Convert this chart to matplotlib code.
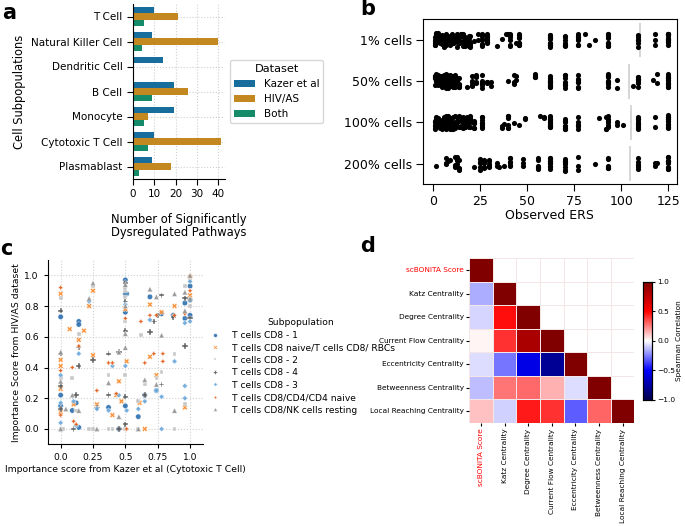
import numpy as np
import pandas as pd
import matplotlib
matplotlib.use("Agg")
import matplotlib.pyplot as plt
import seaborn as sns

# ---------------- DATA ----------------
# panel a
cells = ["T Cell", "Natural Killer Cell", "Dendritic Cell", "B Cell",
         "Monocyte", "Cytotoxic T Cell", "Plasmablast"]
kazer = [10, 9, 14, 19, 19, 10, 9]
hivas = [21, 40, 0, 26, 7, 41, 18]
both = [5, 4, 0, 9, 5, 7, 3]
datasets = ["Kazer et al", "HIV/AS", "Both"]

# panel b  (observed ERS values and how many cells sit on each value)
b_groups = ["1% cells", "50% cells", "100% cells", "200% cells"]
b1_vals = [1, 2, 3, 4, 5, 6, 7, 8, 9, 10, 11, 12, 13, 14, 15, 16, 17, 18, 19, 20,
           22, 24, 26, 29, 34, 37, 39, 40, 41, 44, 46, 62, 70, 77, 81, 83, 86, 93, 109, 118, 125]
b1_cnt = [6, 5, 6, 5, 6, 5, 6, 4, 6, 5, 6, 4, 6, 5, 4, 6, 5, 4, 6, 5,
          1, 2, 8, 10, 1, 1, 1, 1, 6, 1, 8, 14, 8, 8, 1, 1, 1, 10, 6, 3, 14]
b2_vals = [1, 2, 3, 4, 5, 6, 7, 8, 9, 10, 11, 12, 13, 14, 18, 21, 23, 26, 29, 31,
           40, 43, 44, 54, 62, 70, 77, 93, 98, 106, 109, 117, 119, 125]
b2_cnt = [6, 5, 6, 5, 6, 5, 6, 4, 6, 5, 6, 4, 6, 5, 1, 5, 5, 6, 3, 2,
          1, 3, 2, 4, 14, 8, 8, 10, 2, 1, 8, 1, 2, 14]
b3_vals = [1, 2, 3, 4, 5, 6, 7, 8, 9, 10, 11, 12, 13, 14, 15, 16, 17, 18, 19, 20,
           22, 26, 37, 38, 40, 43, 46, 49, 57, 59, 62, 70, 77, 88, 92, 93, 98, 101, 109, 118, 125]
b3_cnt = [6, 5, 6, 5, 6, 5, 6, 4, 6, 5, 6, 4, 6, 5, 4, 6, 5, 4, 6, 5,
          6, 8, 2, 1, 6, 1, 1, 2, 1, 2, 14, 8, 6, 1, 3, 6, 2, 1, 10, 2, 14]
b4_vals = [2, 7, 8, 9, 12, 13, 14, 22, 25, 27, 30, 34, 35, 38, 41, 48, 56, 62, 70,
           77, 86, 93, 109, 118, 119, 125]
b4_cnt = [1, 3, 1, 1, 4, 5, 4, 1, 5, 5, 5, 2, 1, 1, 6, 3, 6, 12, 8,
          3, 1, 6, 6, 2, 1, 12]
b_ref = [109.7, 104.3, 105.0, 104.7]

# panel c  (x: Kazer et al score, y: HIV/AS score)
subpops = ["T cells CD8 - 1", "T cells CD8 naive/T cells CD8/ RBCs", "T cells CD8 - 2",
           "T cells CD8 - 4", "T cells CD8 - 3", "T cells CD8/CD4/CD4 naive",
           "T cells CD8/NK cells resting"]
c1_x = [0.0, 0.0, 0.0, 0.14, 0.14, 0.12, 0.37, 0.5, 0.5, 0.51, 0.6, 0.65, 0.69, 0.74, 0.87,
        0.96, 0.96, 1.0, 1.0, 0.45, 0.09, 0.14, 0.5, 0.78, 0.5, 1.0]
c1_y = [0.73, 0.22, 0.15, 0.70, 0.68, 0.17, 0.14, 0.76, 0.15, 0.88, 0.08, 0.22, 0.86, 0.25, 0.74,
        0.82, 0.72, 0.93, 0.74, 0.0, 0.12, 0.01, 0.97, 0.75, 0.88, 0.84]
c2_x = [0.0, 0.0, 0.0, 0.0, 0.0, 0.07, 0.10, 0.14, 0.18, 0.22, 0.25, 0.25, 0.40, 0.43, 0.45,
        0.47, 0.5, 0.51, 0.65, 0.69, 0.69, 0.74, 0.78, 0.88, 0.96, 1.0, 0.61, 1.0, 0.28]
c2_y = [0.88, 0.45, 0.41, 0.26, 0.11, 0.65, 0.16, 0.58, 0.64, 0.80, 0.90, 0.48, 0.09, 0.22, 0.31,
        0.18, 0.78, 0.44, 0.0, 0.81, 0.47, 0.35, 0.76, 0.80, 0.14, 0.99, 0.17, 0.87, 0.16]
c3_x = [0.0, 0.0, 0.0, 0.02, 0.09, 0.12, 0.22, 0.25, 0.37, 0.37, 0.40, 0.5, 0.5, 0.5, 0.6,
        0.6, 0.65, 0.74, 0.78, 0.88, 0.96, 0.96, 1.0, 1.0, 0.25, 0.14, 0.5, 0.88, 0.62, 0.5, 0.5]
c3_y = [0.85, 0.33, 0.0, 0.0, 0.33, 0.12, 0.0, 0.0, 0.35, 0.0, 0.0, 0.90, 0.86, 0.35, 0.18,
        0.0, 0.29, 0.33, 0.37, 0.49, 0.93, 0.16, 0.97, 0.80, 0.93, 0.62, 0.0, 0.0, 0.61, 0.92, 0.70]
c4_x = [0.0, 0.0, 0.0, 0.0, 0.14, 0.14, 0.12, 0.25, 0.28, 0.37, 0.37, 0.45, 0.45, 0.5, 0.5,
        0.5, 0.5, 0.65, 0.69, 0.72, 0.75, 0.78, 0.78, 0.87, 0.96, 0.96, 1.0, 0.10, 0.5]
c4_y = [0.77, 0.49, 0.28, 0.13, 0.53, 0.41, 0.22, 0.45, 0.14, 0.49, 0.22, 0.50, 0.0, 0.83, 0.64,
        0.21, 0.03, 0.22, 0.63, 0.70, 0.74, 0.87, 0.29, 0.73, 0.54, 0.85, 0.72, 0.0, 0.95]
c5_x = [0.0, 0.0, 0.0, 0.10, 0.14, 0.12, 0.28, 0.37, 0.40, 0.45, 0.5, 0.5, 0.51, 0.6, 0.65,
        0.69, 0.74, 0.78, 0.78, 0.88, 0.96, 0.96, 0.96, 1.0, 1.0, 0.22]
c5_y = [0.35, 0.17, 0.04, 0.18, 0.49, 0.02, 0.13, 0.12, 0.41, 0.22, 0.81, 0.41, 0.12, 0.13, 0.18,
        0.71, 0.25, 0.21, 0.0, 0.44, 0.28, 0.20, 0.69, 0.70, 0.96, 0.83]
c6_x = [0.0, 0.0, 0.0, 0.09, 0.10, 0.12, 0.14, 0.28, 0.37, 0.40, 0.43, 0.5, 0.51, 0.62, 0.65,
        0.69, 0.72, 0.79, 0.79, 0.88, 0.96, 1.0, 1.0, 0.74]
c6_y = [0.92, 0.38, 0.09, 0.40, 0.05, 0.03, 0.54, 0.25, 0.43, 0.43, 0.23, 0.72, 0.0, 0.70, 0.43,
        0.74, 0.49, 0.49, 0.44, 0.74, 0.75, 0.99, 0.90, 0.74]
c7_x = [0.0, 0.0, 0.0, 0.04, 0.09, 0.14, 0.25, 0.28, 0.37, 0.45, 0.45, 0.5, 0.5, 0.5, 0.6,
        0.65, 0.69, 0.74, 0.74, 0.78, 0.88, 0.88, 0.96, 0.96, 1.0, 1.0, 0.22, 0.5]
c7_y = [0.50, 0.31, 0.0, 0.13, 0.22, 0.12, 0.95, 0.0, 0.30, 0.08, 0.50, 0.94, 0.53, 0.62, 0.0,
        0.32, 0.91, 0.29, 0.86, 0.61, 0.88, 0.12, 0.89, 0.77, 1.0, 0.85, 0.85, 0.80]
c_colors = ["#2f72b0", "#f98a2c", "#c4c4c4", "#545454", "#6aa8dc", "#e25a14", "#959595"]

# panel d  (lower triangle of the Spearman correlation matrix)
measures = ["scBONITA Score", "Katz Centrality", "Degree Centrality",
            "Current Flow Centrality", "Eccentricity Centrality",
            "Betweenness Centrality", "Local Reaching Centrality"]
corr_rows = [
    [1.0],
    [-0.16, 1.0],
    [-0.08, 0.47, 1.0],
    [0.02, 0.40, 0.83, 1.0],
    [-0.07, -0.27, -0.57, -0.79, 1.0],
    [-0.13, 0.27, 0.29, 0.15, -0.07, 1.0],
    [0.12, -0.09, 0.45, 0.40, -0.32, 0.30, 1.0],
]

# ---------------- FIGURE ----------------
fig = plt.figure(figsize=(6.85, 5.26), dpi=100)

def px(x0, y0, x1, y1):
    # pixel box -> figure fraction rect
    W, H = 685.0, 526.0
    return [x0 / W, 1 - y1 / H, (x1 - x0) / W, (y1 - y0) / H]

# ---- a ----
ax_a = fig.add_axes(px(133, 4, 225, 179))
pal = [sns.desaturate(c, 0.75) for c in sns.color_palette("colorblind", 3)]
ypos = np.arange(len(cells))
bh = 0.8 / 3
for k, vals in enumerate([kazer, hivas, both]):
    ax_a.barh(ypos + (k - 1) * bh, vals, height=bh, color=pal[k], label=datasets[k], zorder=2)
ax_a.set_ylim(len(cells) - 0.5, -0.5)
ax_a.set_xlim(0, 43.1)
ax_a.set_yticks(ypos)
ax_a.set_yticklabels(cells)
ax_a.set_xticks([0, 10, 20, 30, 40])
ax_a.grid(True, linestyle=":", color="#cfcfcf", linewidth=0.8, zorder=0)
ax_a.set_axisbelow(True)
for s in ["top", "right"]:
    ax_a.spines[s].set_visible(False)
ax_a.tick_params(labelsize=7.5, length=4)
ax_a.set_ylabel("Cell Subpopulations", fontsize=8.3)
ax_a.set_xlabel("Number of Significantly\nDysregulated Pathways", fontsize=8.3,
                labelpad=9.5, linespacing=1.05)
ax_a.legend(title="Dataset", loc="center left", bbox_to_anchor=(1.0, 0.5),
            fontsize=7.5, title_fontsize=8.2)

# ---- b ----
ax_b = fig.add_axes(px(422.7, 19.3, 676.7, 184.3))
ers = np.concatenate([np.repeat(b1_vals, b1_cnt), np.repeat(b2_vals, b2_cnt),
                      np.repeat(b3_vals, b3_cnt), np.repeat(b4_vals, b4_cnt)])
grp = np.repeat(b_groups, [sum(b1_cnt), sum(b2_cnt), sum(b3_cnt), sum(b4_cnt)])
df_b = pd.DataFrame({"ERS": ers, "group": grp})
np.random.seed(3)
sns.stripplot(data=df_b, x="ERS", y="group", order=b_groups, color="black",
              size=3.7, jitter=0.17, ax=ax_b)
for i, v in enumerate(b_ref):
    ax_b.vlines(v, i - 0.42, i + 0.42, color="#d0d0d0", linewidth=1.2, zorder=0)
ax_b.set_xlim(-5.3, 129.4)
ax_b.set_ylim(3.5, -0.5)
ax_b.set_xticks([0, 25, 50, 75, 100, 125])
ax_b.set_ylabel("")
ax_b.set_xlabel("Observed ERS", fontsize=9, labelpad=1)
ax_b.tick_params(labelsize=9, length=5, pad=2.5)

# ---- c ----
ax_c = fig.add_axes(px(47.7, 260, 203, 444.3))
cx = [c1_x, c2_x, c3_x, c4_x, c5_x, c6_x, c7_x]
cy = [c1_y, c2_y, c3_y, c4_y, c5_y, c6_y, c7_y]
df_c = pd.DataFrame({
    "x": np.concatenate(cx),
    "y": np.concatenate(cy),
    "Subpopulation": np.repeat(subpops, [len(a) for a in cx]),
})
sns.scatterplot(data=df_c, x="x", y="y", hue="Subpopulation", style="Subpopulation",
                hue_order=subpops, style_order=subpops, palette=c_colors,
                s=15, alpha=0.92, ax=ax_c)
ax_c.set_xlim(-0.1, 1.1)
ax_c.set_ylim(-0.1, 1.1)
ax_c.set_xticks([0.0, 0.25, 0.5, 0.75, 1.0])
ax_c.set_xticklabels(["0.0", "0.25", "0.5", "0.75", "1.0"])
ax_c.set_yticks([0.0, 0.2, 0.4, 0.6, 0.8, 1.0])
ax_c.grid(True, linestyle=":", color="#cfcfcf", linewidth=0.8)
ax_c.set_axisbelow(True)
for s in ["top", "right"]:
    ax_c.spines[s].set_visible(False)
ax_c.tick_params(labelsize=6.6, length=3)
ax_c.set_xlabel("Importance score from Kazer et al (Cytotoxic T Cell)", fontsize=6.7,
                labelpad=2)
ax_c.set_ylabel("Importance Score from HIV/AS dataset", fontsize=6.7, labelpad=2)
hd, lb = ax_c.get_legend_handles_labels()
ax_c.legend(hd, lb, title="Subpopulation", frameon=False, fontsize=6.6, title_fontsize=6.6,
            loc="upper left", bbox_to_anchor=(198 / 685, 1 - 310 / 526),
            bbox_transform=fig.transFigure, markerscale=0.7, handletextpad=0.8,
            labelspacing=0.38)

# ---- d ----
n = len(measures)
corr = np.full((n, n), np.nan)
for i, row in enumerate(corr_rows):
    for j, v in enumerate(row):
        corr[i, j] = v
        corr[j, i] = v
mask = np.triu(np.ones((n, n), dtype=bool), k=1)
ax_d = fig.add_axes(px(469.3, 258.3, 634.3, 423))
cax = fig.add_axes(px(643, 281.7, 652, 400))
sns.heatmap(pd.DataFrame(corr, index=measures, columns=measures), mask=mask,
            cmap="seismic", vmin=-1, vmax=1, linewidths=0.5, linecolor="#f4e6e6",
            ax=ax_d, cbar_ax=cax, cbar_kws={"ticks": [-1, -0.5, 0, 0.5, 1]})
ax_d.tick_params(labelsize=5.3, length=2.5, pad=1.5)
ax_d.set_xticklabels(measures, rotation=90)
ax_d.set_yticklabels(measures, rotation=0)
for t in ax_d.get_xticklabels() + ax_d.get_yticklabels():
    if t.get_text() == "scBONITA Score":
        t.set_color("red")
cax.tick_params(labelsize=5.4, length=2.5, pad=1.2)
cax.set_ylabel("Spearman Correlation", fontsize=5.3, labelpad=0.5)
cax.set_yticklabels(["\u22121.0", "\u22120.5", "0.0", "0.5", "1.0"])
for sp in cax.spines.values():
    sp.set_visible(True)
    sp.set_linewidth(0.8)

# ---- panel letters ----
for letter, xp, yp in [("a", 2, 19), ("b", 360, 15), ("c", 0, 255), ("d", 360, 252)]:
    fig.text(xp / 685, 1 - yp / 526, letter, fontsize=15, fontweight="bold", va="baseline")

fig.savefig("out.png", dpi=100)
